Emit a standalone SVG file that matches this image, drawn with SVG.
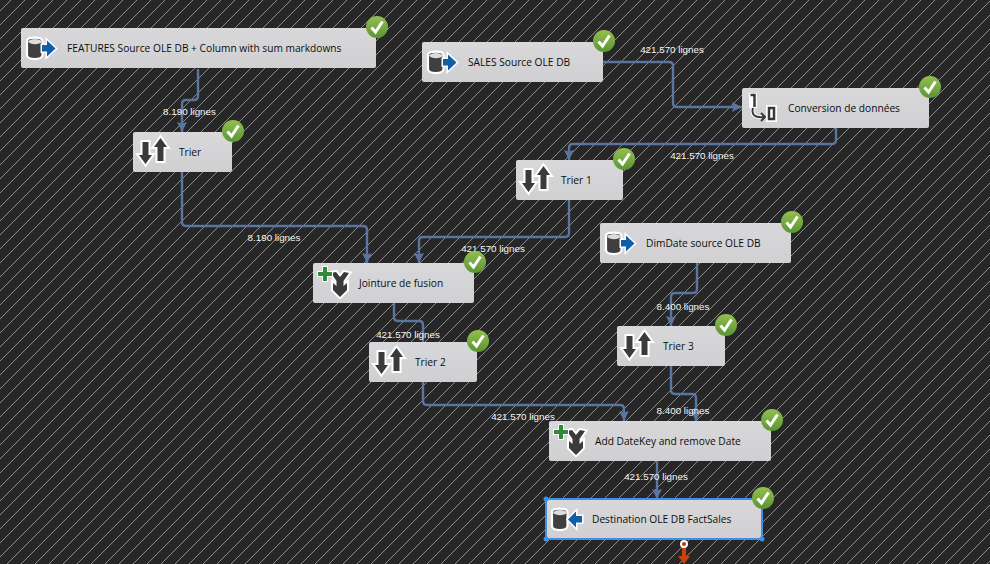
<svg xmlns="http://www.w3.org/2000/svg" width="990" height="564" viewBox="0 0 990 564">
<style>
.n{fill:url(#nf)}
.t{font:10.200px "Open Sans","Liberation Sans",Arial,sans-serif;fill:#0c0c0c}
.l{font:9.800px "Liberation Sans",Arial,sans-serif;fill:#f6f6f2;text-anchor:middle}
.c{fill:none;stroke:#5a76a0;stroke-width:2.400}
.ck{fill:none;stroke:#fff;stroke-width:3}
.hd{fill:#3f8fe8}
.ic{fill:#3a3a3a;stroke:#fff;stroke-width:4;paint-order:stroke;stroke-linejoin:miter}
.ar{fill:#0e5ea8;stroke:#fff;stroke-width:3;paint-order:stroke}
</style>
<defs>
<pattern id="bg" width="14" height="14" patternUnits="userSpaceOnUse" patternTransform="translate(11 0)">
<rect width="14" height="14" fill="#272727"/>
<path d="M-2 16 16 -2M-9 9 9 -9M5 23 23 5" stroke="#8c8c8c" stroke-width="1.100" shape-rendering="crispEdges"/>
</pattern>
<linearGradient id="nf" x1="0" y1="0" x2="0" y2="1"><stop offset="0" stop-color="#d8d8da"/><stop offset="1" stop-color="#d0d0d3"/></linearGradient>
<linearGradient id="g" x1="0" y1="0" x2="0" y2="1"><stop offset="0" stop-color="#93c04f"/><stop offset="1" stop-color="#5b9434"/></linearGradient>
<marker id="a" markerWidth="11" markerHeight="10" refX="10" refY="5" orient="auto" markerUnits="userSpaceOnUse"><path d="M0 0L10 5L0 10L1.500 5Z" fill="#5a76a0"/></marker>
<g id="ok"><circle r="11" fill="url(#g)"/><path class="ck" d="M-5.500 0.500L-1.500 5L5.500 -5.500"/></g>
<g id="sort">
<path class="ic" d="M-6.500 -10H-0.500V3H3L-3.500 12L-10 3H-6.500Z"/>
<path class="ic" d="M11.500 -14L18 -5H14.500V9H8.500V-5H5Z"/>
</g>
<g id="cyl"><path d="M-12 -7V7C-12 12.500 3.500 12.500 3.500 7V-7C3.500 -11.500 -12 -11.500 -12 -7Z" fill="#3f3f3f" stroke="#fff" stroke-width="2.200"/><path d="M-11 -6.500C-9 -3 1 -3 3 -6.500C1 -10 -9 -10 -11 -6.500Z" fill="#dcdcdc"/></g>
<g id="src"><use href="#cyl"/><path class="ar" d="M3 -3H8V-7.500L16.500 0.500L8 8.500V3.500H3Z"/></g>
<g id="dst"><use href="#cyl"/><path class="ar" d="M18 -3H12V-7.500L4 0.500L12 8.500V3.500H18Z"/></g>
<g id="mrg"><path class="ic" d="M-4 -10L1 -11L5 -6L9 -11L14 -10L8.500 -2V3L12 0V7L5 14L-2 7V0L1.500 3V-2Z"/><path d="M-17 -11H-12V-16H-8V-11H-3V-7H-8V-2H-12V-7H-17Z" fill="#2f8a3a" stroke="#fff" stroke-width="2" paint-order="stroke"/></g>
<g id="cnv"><rect x="-12" y="-15" width="8" height="15" fill="#fff"/><path d="M-10.500 -13H-6.500V-1" fill="none" stroke="#383838" stroke-width="2.500"/><path d="M-8 0C-10 7 -6 10 3 9" fill="none" stroke="#fff" stroke-width="4"/><path d="M-8 0C-10 7 -6 10 3 9" fill="none" stroke="#383838" stroke-width="2"/><path d="M0 5L4 9L0 13" fill="none" stroke="#383838" stroke-width="2"/><rect x="5" y="-3" width="11" height="17" fill="#fff"/><rect x="8" y="0" width="5" height="11" fill="none" stroke="#383838" stroke-width="2.500"/></g>
</defs>
<rect width="990" height="564" fill="url(#bg)"/>
<g id="connectors">
<path class="c" marker-end="url(#a)" d="M198 69V96Q198 100 194 100H186Q182 100 182 104V132"/>
<path class="c" marker-end="url(#a)" d="M182 172V222Q182 226 186 226H363Q367 226 367 230V263"/>
<path class="c" marker-end="url(#a)" d="M603 62H669Q673 62 673 66V103Q673 107 677 107H742"/>
<path class="c" marker-end="url(#a)" d="M836 128V140Q836 144 832 144H573Q569 144 569 148V160"/>
<path class="c" marker-end="url(#a)" d="M569 200V233Q569 237 565 237H423Q419 237 419 241V263"/>
<path class="c" d="M394 303V317Q394 321 398 321H419Q423 321 423 325V342"/>
<path class="c" marker-end="url(#a)" d="M423 382V401Q423 405 427 405H620Q624 405 624 409V421"/>
<path class="c" marker-end="url(#a)" d="M697 263V289Q697 293 693 293H675Q671 293 671 297V326"/>
<path class="c" marker-end="url(#a)" d="M671 366V390Q671 394 675 394H692Q696 394 696 398V421"/>
<path class="c" marker-end="url(#a)" d="M657 461V499"/>
<path d="M684 545V558" stroke="#c8430f" stroke-width="4" fill="none"/>
<path d="M678 556H690L684 564Z" fill="#c8430f"/>
<circle cx="684" cy="544" r="3" fill="#b33a10" stroke="#fff" stroke-width="2"/>
</g>
<g id="labels">
<text class="l" x="189.500" y="115">8.190 lignes</text>
<text class="l" x="274" y="241">8.190 lignes</text>
<text class="l" x="672" y="53">421.570 lignes</text>
<text class="l" x="702" y="159">421.570 lignes</text>
<text class="l" x="493" y="252">421.570 lignes</text>
<text class="l" x="408" y="338">421.570 lignes</text>
<text class="l" x="683" y="310">8.400 lignes</text>
<text class="l" x="523" y="420">421.570 lignes</text>
<text class="l" x="683" y="414">8.400 lignes</text>
<text class="l" x="656" y="480">421.570 lignes</text>
</g>
<g id="features"><rect class="n" x="21" y="28" width="355" height="40" rx="2"/><use href="#src" x="39" y="48"/><text class="t" x="67" y="52">FEATURES Source OLE DB + Column with sum markdowns</text><use href="#ok" x="377" y="27"/></g>
<g id="trier"><rect class="n" x="133" y="132" width="99" height="40" rx="2"/><use href="#sort" x="149" y="152"/><text class="t" x="179" y="156">Trier</text><use href="#ok" x="233" y="131"/></g>
<g id="sales"><rect class="n" x="422" y="42" width="181" height="40" rx="2"/><use href="#src" x="440" y="62"/><text class="t" x="468" y="66">SALES Source OLE DB</text><use href="#ok" x="604" y="41"/></g>
<g id="conversion"><rect class="n" x="742" y="88" width="187" height="40" rx="2"/><use href="#cnv" x="761" y="108"/><text class="t" x="788" y="112">Conversion de données</text><use href="#ok" x="930" y="87"/></g>
<g id="trier1"><rect class="n" x="516" y="160" width="107" height="40" rx="2"/><use href="#sort" x="532" y="180"/><text class="t" x="561" y="184">Trier 1</text><use href="#ok" x="624" y="159"/></g>
<g id="dimdate"><rect class="n" x="600" y="223" width="191" height="40" rx="2"/><use href="#src" x="618" y="243"/><text class="t" x="646" y="247">DimDate source OLE DB</text><use href="#ok" x="792" y="222"/></g>
<g id="jointure"><rect class="n" x="313" y="263" width="161" height="40" rx="2"/><use href="#mrg" x="335" y="283"/><text class="t" x="359" y="287">Jointure de fusion</text><use href="#ok" x="475" y="262"/></g>
<g id="trier2"><rect class="n" x="369" y="342" width="108" height="40" rx="2"/><use href="#sort" x="385" y="362"/><text class="t" x="415" y="366">Trier 2</text><use href="#ok" x="478" y="341"/></g>
<g id="trier3"><rect class="n" x="617" y="326" width="108" height="40" rx="2"/><use href="#sort" x="633" y="346"/><text class="t" x="663" y="350">Trier 3</text><use href="#ok" x="726" y="325"/></g>
<g id="adddatekey"><rect class="n" x="549" y="421" width="222" height="40" rx="2"/><use href="#mrg" x="571" y="441"/><text class="t" x="595" y="445">Add DateKey and remove Date</text><use href="#ok" x="772" y="420"/></g>
<g id="destination"><rect class="n" x="546" y="499" width="216" height="40" rx="3" stroke="#3f8fe8" stroke-width="2"/><use href="#dst" x="564" y="519"/><text class="t" x="592" y="523">Destination OLE DB FactSales</text><circle class="hd" cx="546" cy="499" r="2.500"/><circle class="hd" cx="762" cy="499" r="2.500"/><circle class="hd" cx="546" cy="539" r="2.500"/><circle class="hd" cx="762" cy="539" r="2.500"/><use href="#ok" x="763" y="498"/></g>
</svg>
